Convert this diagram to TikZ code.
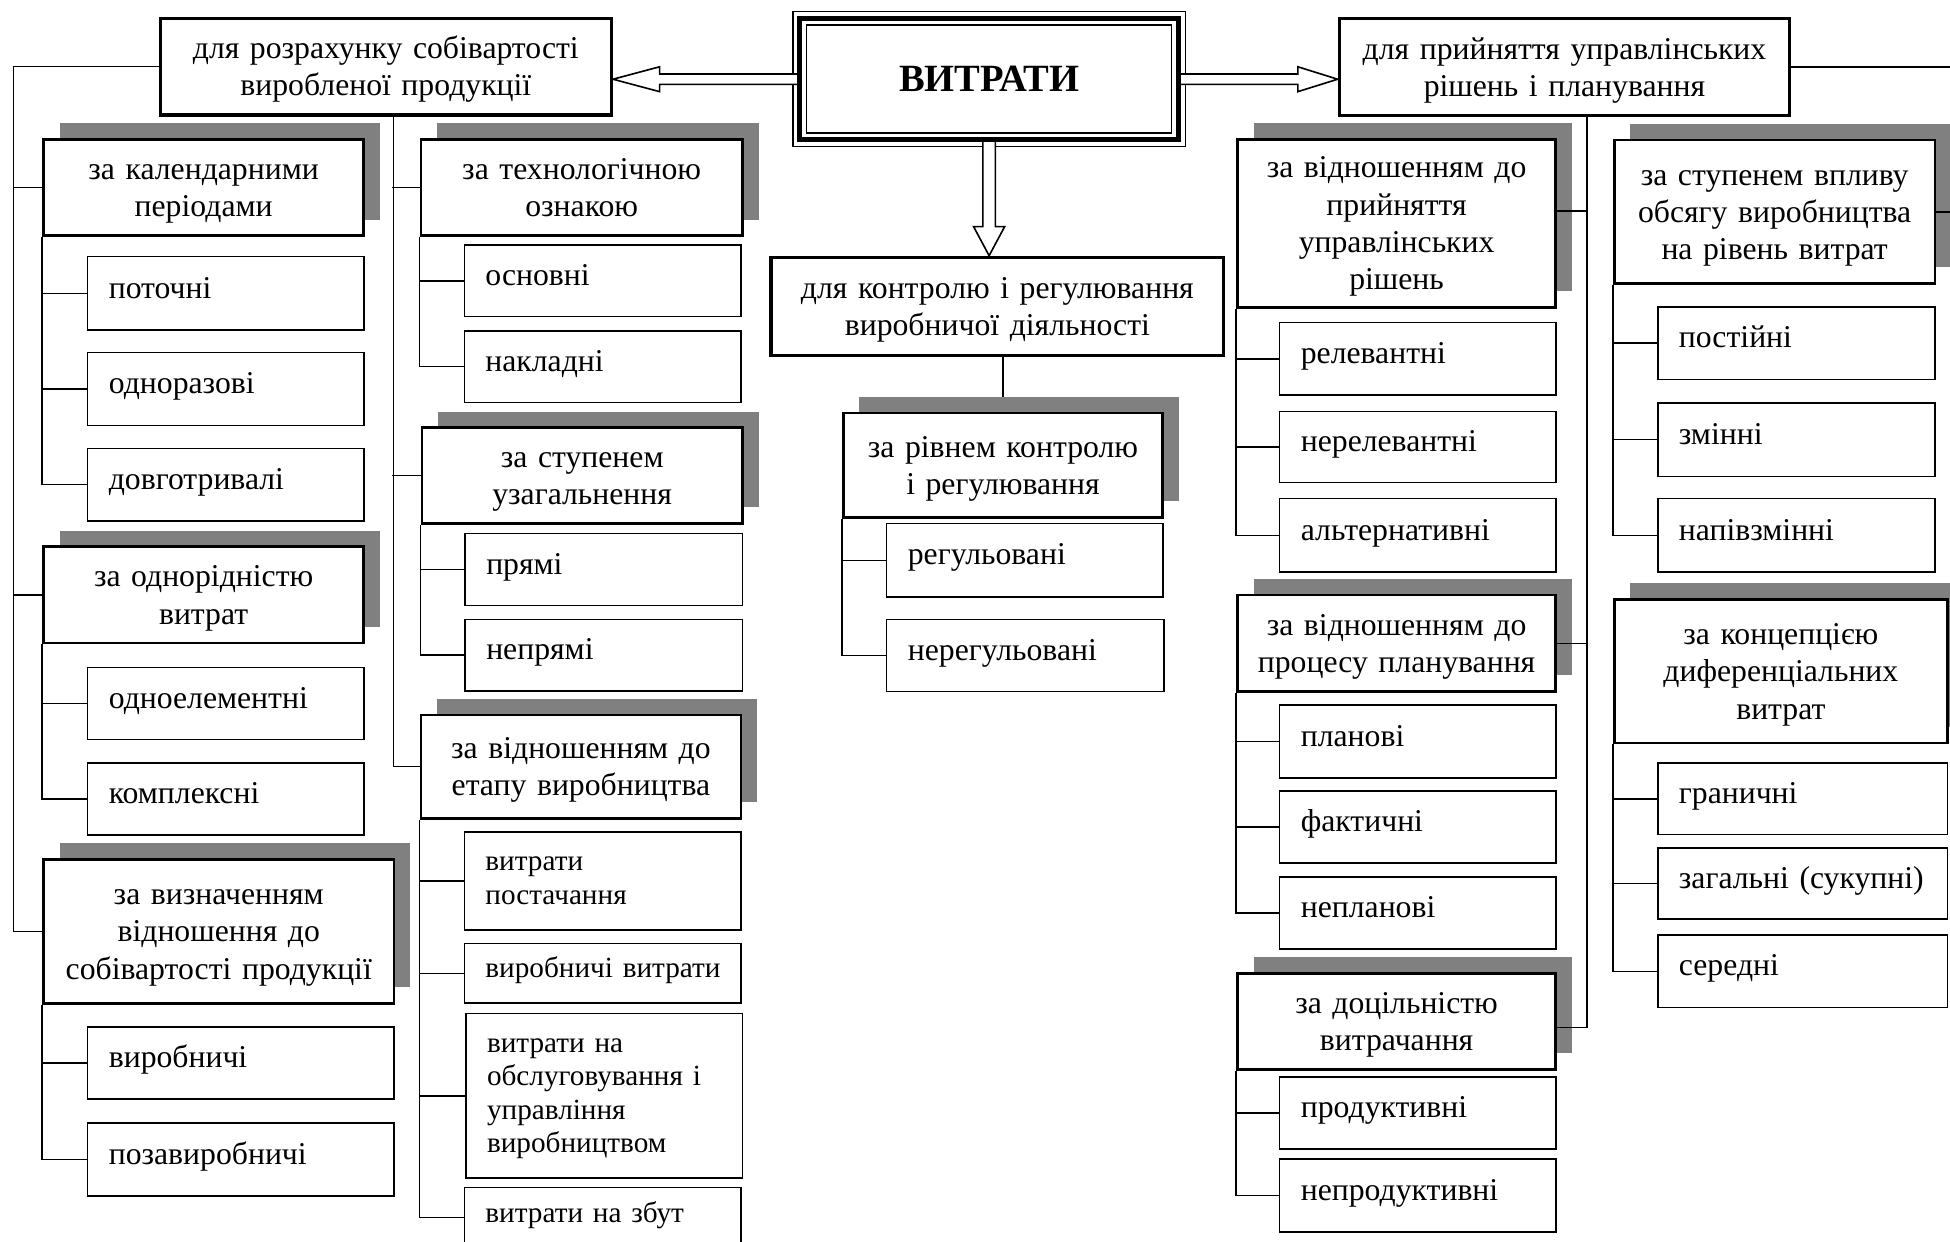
\documentclass[tikz,border=0pt]{standalone}
\usepackage{fontspec}
\setmainfont{Liberation Serif}
\usetikzlibrary{calc,shadows}
\definecolor{shadowgray}{HTML}{808080}

% struts that fix the top of the first line and the bottom of the last line
\newcommand\dgtopstrut{\rule{0pt}{26pt}}
\newcommand\dgbotstrut{\rule[-9pt]{0pt}{9pt}}

\tikzset{
  topbox/.style={draw, line width=2.8pt, fill=white, align=center, inner xsep=5pt, inner ysep=0pt,
    font=\fontsize{25.5}{30}\selectfont,
    execute at begin node=\dgtopstrut, execute at end node=\dgbotstrut},
  catbox/.style={draw, line width=2.2pt, fill=white, align=center, inner xsep=5pt, inner ysep=0pt,
    font=\fontsize{25.5}{30}\selectfont,
    execute at begin node=\dgtopstrut, execute at end node=\dgbotstrut,
    drop shadow={shadow xshift=13pt, shadow yshift=13pt, fill=shadowgray, opacity=1}},
  itembox/.style={draw, line width=1.2pt, fill=white, align=left, inner xsep=17pt, inner ysep=0pt,
    font=\fontsize{25.5}{27}\selectfont},
  smalltext/.style={font=\fontsize{23.5}{27}\selectfont},
  oneline/.style={text height=18pt, text depth=10.5pt},
  multiline/.style={execute at begin node=\strut, execute at end node=\strut},
  link/.style={line width=1.2pt},
  blockarrow/.style={draw, fill=white, line width=1.3pt, line join=miter},
}

% box helpers: name, left, top, right, bottom, text (optional extra style first)
\newcommand\dgsize[4]{%
  \pgfmathsetmacro\dgw{#3-#1}\pgfmathsetmacro\dgh{#4-#2}%
  \pgfmathsetmacro\dgx{(#1+#3)/2}\pgfmathsetmacro\dgy{(#2+#4)/2}}
\newcommand\dgtop[6]{\dgsize{#2}{#3}{#4}{#5}\pgfmathsetmacro\dgt{\dgw-10}%
  \node[topbox, minimum width=\dgw pt, minimum height=\dgh pt, text width=\dgt pt] (#1) at (\dgx,\dgy) {#6};}
\newcommand\dgcat[6]{\dgsize{#2}{#3}{#4}{#5}\pgfmathsetmacro\dgt{\dgw-10}%
  \node[catbox, minimum width=\dgw pt, minimum height=\dgh pt, text width=\dgt pt] (#1) at (\dgx,\dgy) {#6};}
\newcommand\dgitem[7][]{\dgsize{#3}{#4}{#5}{#6}\pgfmathsetmacro\dgt{\dgw-34}%
  \node[itembox, oneline, #1, minimum width=\dgw pt, minimum height=\dgh pt, text width=\dgt pt] (#2) at (\dgx,\dgy) {#7};}
\newcommand\dgitems[7][]{\dgsize{#3}{#4}{#5}{#6}\pgfmathsetmacro\dgt{\dgw-34}%
  \node[itembox, multiline, #1, minimum width=\dgw pt, minimum height=\dgh pt, text width=\dgt pt] (#2) at (\dgx,\dgy) {#7};}

\begin{document}
\begin{tikzpicture}[x=1pt,y=-1pt]
\useasboundingbox (0,0) rectangle (1568,998);
\clip (0,0) rectangle (1568,998);
\coordinate (edgeR) at (1568,0);

% ---- top level ----
\dgtop{costcalc}{129}{14.7}{491.5}{92.5}{для розрахунку собівартості\\виробленої продукції}
\dgtop{control}{620}{207}{984}{286}{для контролю і регулювання\\виробничої діяльності}
\dgtop{decision}{1077}{15}{1439}{93}{для прийняття управлінських\\рішень і планування}

\node[draw, line width=1.1pt, fill=white, inner sep=0pt, minimum width=315.3pt, minimum height=108.6pt,
  font=\fontsize{31}{36}\selectfont\bfseries] (main) at (795.35,63.7) {ВИТРАТИ};

% hollow arrows from the main box
\draw[blockarrow] (costcalc.east |- main.west) -- ++(37.5,-10) -- ++(0,5.85)
  -- ([shift={(5,-4.15)}]main.west) -- ++(0,8.3)
  -- ($(costcalc.east |- main.west)+(37.5,4.15)$) -- ++(0,5.85) -- cycle;
\draw[blockarrow] (decision.west |- main.east) -- ++(-32,-10) -- ++(0,5.85)
  -- ([shift={(-5,-4.15)}]main.east) -- ++(0,8.3)
  -- ($(decision.west |- main.east)+(-32,4.15)$) -- ++(0,5.85) -- cycle;
\draw[blockarrow] (main.south |- control.north) -- ++(-12.5,-23.4) -- ++(7.5,0)
  -- ([shift={(-5,-5.4)}]main.south) -- ++(10,0)
  -- ($(main.south |- control.north)+(5,-23.4)$) -- ++(7.5,0) -- cycle;

% triple frame of the main box
\draw[line width=4pt] ([shift={(6,6)}]main.north west) rectangle ([shift={(-6,-6)}]main.south east);
\draw[line width=1.3pt] ([shift={(11.5,11.5)}]main.north west) rectangle ([shift={(-11.5,-11.5)}]main.south east);

% ---- left column ----
\dgcat{calendar}{35}{112}{292.5}{189.5}{за календарними\\періодами}
\dgitem{current}{70.5}{206.4}{292.5}{265.4}{поточні}
\dgitem{onetime}{70.5}{283.6}{292.5}{342}{одноразові}
\dgitem{longterm}{70.5}{360.5}{292.5}{419}{довготривалі}
\dgcat{homog}{35}{439.7}{292.5}{517}{за однорідністю\\витрат}
\dgitem{single}{70.5}{536.6}{292.5}{594.5}{одноелементні}
\dgitem{complex}{70.5}{613.7}{292.5}{671.5}{комплексні}
\dgcat{costrel}{35}{691}{316.8}{806.7}{за визначенням\\відношення до\\собівартості~продукції}
\dgitem{prod}{70.5}{826}{316.8}{883.7}{виробничі}
\dgitem{nonprod}{70.5}{903}{316.8}{961.7}{позавиробничі}

% ---- second column ----
\dgcat{tech}{338.5}{112}{597}{189.5}{за технологічною\\ознакою}
\dgitem{basic}{373.3}{197}{595.8}{254.6}{основні}
\dgitem{overhead}{373.3}{266}{595.8}{323.8}{накладні}
\dgcat{general}{339.3}{344}{597}{420.7}{за ступенем\\узагальнення}
\dgitem{direct}{374}{428.8}{597}{487}{прямі}
\dgitem{indirect}{374}{498}{597}{555.7}{непрямі}
\dgcat{stage}{338.5}{575}{595.8}{658}{за відношенням~до\\етапу~виробництва}
\dgitems[smalltext]{supply}{373.3}{669}{595.8}{747.8}{витрати\\постачання}
\dgitem[smalltext]{manuf}{373.3}{758.5}{595.8}{806.7}{виробничі~витрати}
\dgitems[smalltext]{service}{374.6}{815}{597}{947.3}{витрати~на\\обслуговування~і\\управління\\виробництвом}
\dgitem[smalltext]{sales}{373.3}{955}{595.8}{1003}{витрати~на~збут}

% ---- centre ----
\dgcat{level}{678}{332}{935}{416}{за рівнем~контролю\\і~регулювання}
\dgitem{regulated}{713}{421}{935}{480}{регульовані}
\dgitem{unregulated}{713}{498}{936}{556}{нерегульовані}

% ---- right part ----
\dgcat{decide}{995}{112}{1251}{247}{за відношенням~до\\прийняття\\управлінських\\рішень}
\dgitem{relevant}{1029}{259.5}{1251}{317.6}{релевантні}
\dgitem{irrelevant}{1029}{331}{1251}{388}{нерелевантні}
\dgitem{alternative}{1029}{401}{1251}{460}{альтернативні}
\dgcat{planning}{995}{478.5}{1251}{556}{за відношенням~до\\процесу~планування}
\dgitem{planned}{1029}{567}{1251}{625.5}{планові}
\dgitem{actual}{1029}{636}{1251}{694}{фактичні}
\dgitem{unplanned}{1029}{705}{1251}{763}{непланові}
\dgcat{purpose}{995}{782.7}{1251}{860}{за доцільністю\\витрачання}
\dgitem{productive}{1029}{866}{1251}{924}{продуктивні}
\dgitem{unproductive}{1029}{932}{1251}{990.7}{непродуктивні}

\dgcat{volume}{1298}{112.6}{1556}{228}{за ступенем~впливу\\обсягу~виробництва\\на~рівень~витрат}
\dgitem{fixed}{1333}{247}{1556}{305}{постійні}
\dgitem{variable}{1333}{324}{1556}{383}{змінні}
\dgitem{semivar}{1333}{401}{1556}{460}{напівзмінні}
\dgcat{diff}{1298}{482}{1566}{597.5}{за концепцією\\диференціальних\\витрат}
\dgitem{marginal}{1333}{613.6}{1566}{671}{граничні}
\dgitem{total}{1333}{682}{1566}{739}{загальні~(сукупні)}
\dgitem{average}{1333}{752}{1566}{810}{середні}

% ---- connectors: left ----
\draw[link] (costcalc.west) -| ($(costrel.west)+(-23,0)$) -- (costrel.west);
\draw[link] (calendar.west) -- ++(-23,0);
\draw[link] (homog.west) -- ++(-23,0);
\draw[link] ([xshift=6pt]costcalc.south) |- (stage.west);
\draw[link] (tech.west) -- ++(-22.5,0);
\draw[link] (general.west) -- ++(-23.3,0);

\draw[link] (calendar.south west) |- (longterm.west);
\draw[link] (current.west) -- (current.west -| calendar.west);
\draw[link] (onetime.west) -- (onetime.west -| calendar.west);
\draw[link] (homog.south west) |- (complex.west);
\draw[link] (single.west) -- (single.west -| homog.west);
\draw[link] (costrel.south west) |- (nonprod.west);
\draw[link] (prod.west) -- (prod.west -| costrel.west);

\draw[link] (tech.south west) |- (overhead.west);
\draw[link] (basic.west) -- (basic.west -| tech.west);
\draw[link] (general.south west) |- (indirect.west);
\draw[link] (direct.west) -- (direct.west -| general.west);
\draw[link] (stage.south west) |- (sales.west);
\draw[link] (supply.west) -- (supply.west -| stage.west);
\draw[link] (manuf.west) -- (manuf.west -| stage.west);
\draw[link] (service.west) -- (service.west -| stage.west);

% ---- connectors: centre ----
\draw[link] (level.north |- control.south) -- ([yshift=12pt]level.north);
\draw[link] (level.south west) |- (unregulated.west);
\draw[link] (regulated.west) -- (regulated.west -| level.west);

% ---- connectors: right ----
\draw[link] ([xshift=18pt]decision.south) |- ([yshift=-5pt]purpose.east);
\draw[link] ([yshift=10pt]decide.east) -- ++(25,0);
\draw[link] (planning.east) -- ++(25,0);
\draw[link] (decision.east) -- (decision.east -| edgeR);
\draw[link] (volume.east) -- (volume.east -| edgeR);

\draw[link] (decide.south west) |- (alternative.west);
\draw[link] (relevant.west) -- (relevant.west -| decide.west);
\draw[link] (irrelevant.west) -- (irrelevant.west -| decide.west);
\draw[link] (planning.south west) |- (unplanned.west);
\draw[link] (planned.west) -- (planned.west -| planning.west);
\draw[link] (actual.west) -- (actual.west -| planning.west);
\draw[link] (purpose.south west) |- (unproductive.west);
\draw[link] (productive.west) -- (productive.west -| purpose.west);

\draw[link] (volume.south west) |- (semivar.west);
\draw[link] (fixed.west) -- (fixed.west -| volume.west);
\draw[link] (variable.west) -- (variable.west -| volume.west);
\draw[link] (diff.south west) |- (average.west);
\draw[link] (marginal.west) -- (marginal.west -| diff.west);
\draw[link] (total.west) -- (total.west -| diff.west);
\end{tikzpicture}
\end{document}
